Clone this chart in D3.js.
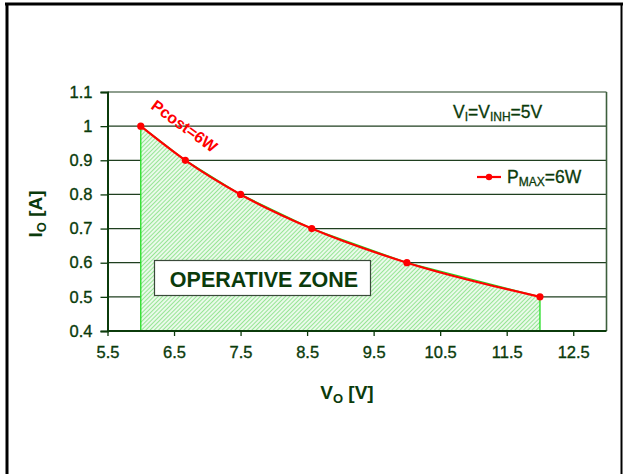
<!DOCTYPE html>
<html>
<head>
<meta charset="utf-8">
<script src="https://cdn.jsdelivr.net/npm/d3@7"></script>
<style>
  body { margin: 0; background: #fff; }
  text { font-family: "Liberation Sans", Arial, sans-serif; }
</style>
</head>
<body>
<div id="chart"></div>
<script>
// data
var voltage = [6, 6.67, 7.5, 8.57, 10, 12];
var current = [1.0, 0.9, 0.8, 0.7, 0.6, 0.5];
var xTicks = [5.5, 6.5, 7.5, 8.5, 9.5, 10.5, 11.5, 12.5];
var yTicks = [0.4, 0.5, 0.6, 0.7, 0.8, 0.9, 1, 1.1];

var width = 623,
  height = 474,
  ink = "#0b3b0b";

var svg = d3.select("#chart").append("svg")
  .attr("width", width)
  .attr("height", height);

// outer frame
svg.append("line").attr("x1", 5).attr("x2", 623).attr("y1", 4).attr("y2", 4)
  .attr("stroke", "#000").attr("stroke-width", 3);
svg.append("line").attr("x1", 7).attr("x2", 7).attr("y1", 3).attr("y2", 474)
  .attr("stroke", "#000").attr("stroke-width", 3);
svg.append("line").attr("x1", 621.5).attr("x2", 621.5).attr("y1", 3).attr("y2", 474)
  .attr("stroke", "#000").attr("stroke-width", 2);

var x = d3.scaleLinear().domain([5.5, 13]).range([107.5, 606.5]);
var y = d3.scaleLinear().domain([0.4, 1.1]).range([331, 92]);

// hatch pattern for the operative zone
var defs = svg.append("defs");
var pat = defs.append("pattern")
  .attr("id", "hatch")
  .attr("patternUnits", "userSpaceOnUse")
  .attr("width", 3).attr("height", 3)
  .attr("patternTransform", "rotate(45)");
pat.append("rect").attr("width", 3).attr("height", 3).attr("fill", "#eafaea");
pat.append("line").attr("x1", 0).attr("x2", 0).attr("y1", 0).attr("y2", 3)
  .attr("stroke", "#6ada66").attr("stroke-width", 1.3);

// grid lines
svg.append("g").selectAll("line")
  .data(yTicks.slice(1))
  .enter().append("line")
  .attr("x1", x(5.5)).attr("x2", x(13))
  .attr("y1", function(d) { return y(d); })
  .attr("y2", function(d) { return y(d); })
  .attr("stroke", "#1f3f1f").attr("stroke-width", 1.2);

// right border of plot
svg.append("line").attr("x1", x(13)).attr("x2", x(13)).attr("y1", y(1.1)).attr("y2", y(0.4))
  .attr("stroke", "#3d5f3d").attr("stroke-width", 1.6);

// operative zone
var pts = voltage.map(function(v, i) { return [v, current[i]]; });
var curve = d3.line().curve(d3.curveMonotoneX)
  .x(function(d) { return x(d[0]); }).y(function(d) { return y(d[1]); });
var zone = [[voltage[0], 0.4]].concat(pts).concat([[voltage[voltage.length - 1], 0.4]]);
svg.append("path")
  .datum(zone)
  .attr("d", d3.line().x(function(d) { return x(d[0]); }).y(function(d) { return y(d[1]); }))
  .attr("fill", "url(#hatch)")
  .attr("stroke", "#22dd22").attr("stroke-width", 1.3);

// axes
var xAxis = svg.append("g")
  .attr("transform", "translate(0," + y(0.4) + ")")
  .call(d3.axisBottom(x).tickValues(xTicks).tickSize(5).tickPadding(10).tickFormat(d3.format(".1f")));
var yAxis = svg.append("g")
  .attr("transform", "translate(" + x(5.5) + ",0)")
  .call(d3.axisLeft(y).tickValues(yTicks).tickSize(7).tickPadding(8)
    .tickFormat(function(d) { return d === 1 ? "1" : d3.format(".1f")(d); }));

[xAxis, yAxis].forEach(function(a) {
  a.select(".domain").attr("stroke", ink).attr("stroke-width", 2);
  a.selectAll(".tick line").attr("stroke", ink).attr("stroke-width", 1.3);
  a.selectAll(".tick text").attr("fill", ink)
    .attr("stroke", ink).attr("stroke-width", 0.35)
    .style("font-size", "16.5px")
    .style("font-family", "'Liberation Sans', Arial, sans-serif");
});
xAxis.select(".domain").attr("d", "M" + x(5.5) + ",0H" + x(13));

// red P = 6W curve
svg.append("path")
  .datum(pts)
  .attr("d", curve)
  .attr("fill", "none")
  .attr("stroke", "#ff0000").attr("stroke-width", 2.2);
svg.append("g").selectAll("circle")
  .data(pts)
  .enter().append("circle")
  .attr("cx", function(d) { return x(d[0]); })
  .attr("cy", function(d) { return y(d[1]); })
  .attr("r", 3.6)
  .attr("fill", "#ff0000");

// curve label
svg.append("text")
  .attr("transform", "translate(150,108) rotate(36)")
  .attr("fill", "#ff0000")
  .style("font-size", "16px").style("font-weight", "bold")
  .text("Pcost=6W");

// operative zone box
svg.append("rect")
  .attr("x", 154.5).attr("y", 260.5).attr("width", 216).attr("height", 35)
  .attr("fill", "#fff").attr("stroke", "#3a4a3a").attr("stroke-width", 1.2);
svg.append("text")
  .attr("x", 264).attr("y", 286.5).attr("text-anchor", "middle")
  .attr("fill", ink)
  .style("font-size", "21.5px").style("font-weight", "bold")
  .text("OPERATIVE ZONE");

// condition label
var cond = svg.append("text").attr("x", 453).attr("y", 118)
  .attr("fill", ink).attr("stroke", ink).attr("stroke-width", 0.3)
  .style("font-size", "17.5px");
cond.append("tspan").text("V");
cond.append("tspan").attr("dy", 3).style("font-size", "12px").text("I");
cond.append("tspan").attr("dy", -3).text("=V");
cond.append("tspan").attr("dy", 3).style("font-size", "12px").text("INH");
cond.append("tspan").attr("dy", -3).text("=5V");

// legend
svg.append("line").attr("x1", 477).attr("x2", 501).attr("y1", 177).attr("y2", 177)
  .attr("stroke", "#ff0000").attr("stroke-width", 2.2);
svg.append("circle").attr("cx", 489).attr("cy", 177).attr("r", 3.2).attr("fill", "#ff0000");
var leg = svg.append("text").attr("x", 507).attr("y", 183)
  .attr("fill", ink).attr("stroke", ink).attr("stroke-width", 0.3)
  .style("font-size", "17.5px");
leg.append("tspan").text("P");
leg.append("tspan").attr("dy", 3).style("font-size", "12px").text("MAX");
leg.append("tspan").attr("dy", -3).text("=6W");

// axis titles
var xt = svg.append("text").attr("x", 347).attr("y", 399).attr("text-anchor", "middle")
  .attr("fill", ink).style("font-size", "19px").style("font-weight", "bold");
xt.append("tspan").text("V");
xt.append("tspan").attr("dy", 4).style("font-size", "13px").text("O");
xt.append("tspan").attr("dy", -4).text(" [V]");

var yt = svg.append("text").attr("transform", "translate(42,214) rotate(-90)")
  .attr("text-anchor", "middle")
  .attr("fill", ink).style("font-size", "19px").style("font-weight", "bold");
yt.append("tspan").text("I");
yt.append("tspan").attr("dy", 4).style("font-size", "13px").text("O");
yt.append("tspan").attr("dy", -4).text(" [A]");
</script>
</body>
</html>
